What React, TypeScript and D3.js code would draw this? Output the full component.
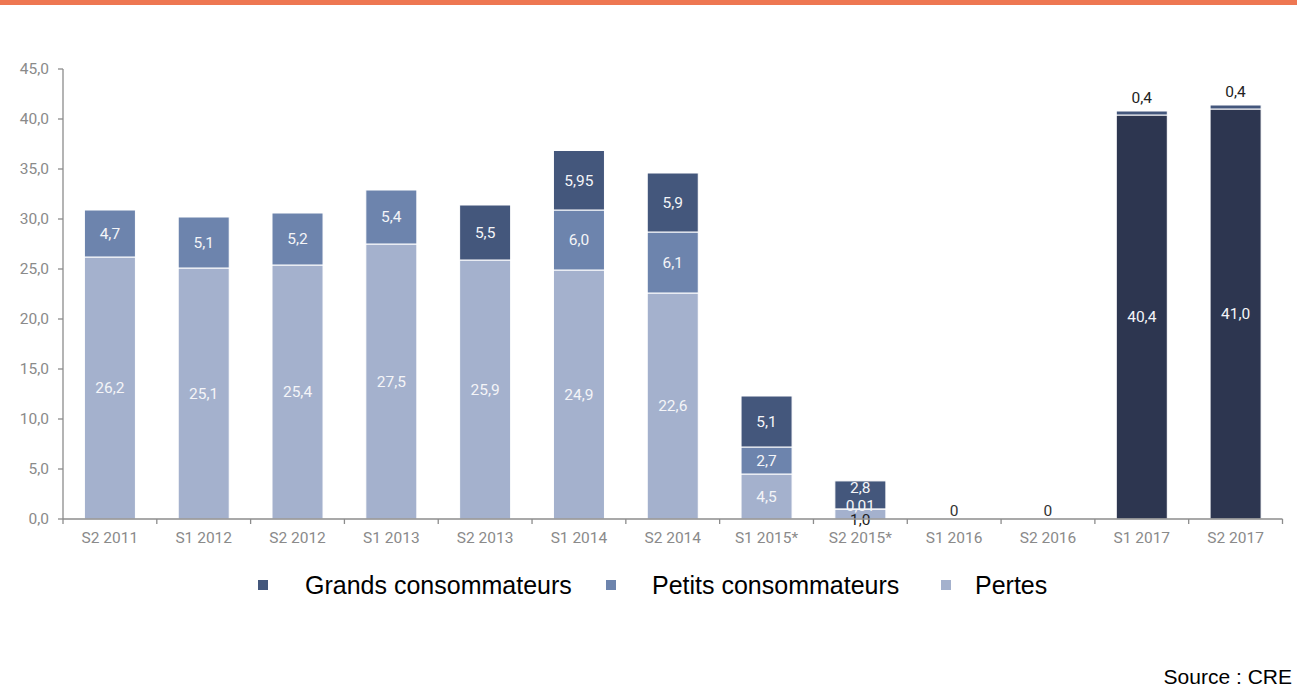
import React from "react";
import * as d3 from "d3";

const categories = ["S2 2011","S1 2012","S2 2012","S1 2013","S2 2013","S1 2014","S2 2014","S1 2015*","S2 2015*","S1 2016","S2 2016","S1 2017","S2 2017"];
const pertes = [26.2, 25.1, 25.4, 27.5, 25.9, 24.9, 22.6, 4.5, 1.0, 0, 0, 0, 0];
const petits = [4.7, 5.1, 5.2, 5.4, 0, 6.0, 6.1, 2.7, 0.01, 0, 0, 0, 0];
const grands = [0, 0, 0, 0, 5.5, 5.95, 5.9, 5.1, 2.8, 0, 0, 0.4, 0.4];
const total2017 = [0, 0, 0, 0, 0, 0, 0, 0, 0, 0, 0, 40.4, 41.0];
const zeroLabels = ["S1 2016", "S2 2016"];
const yTicks = [0, 5, 10, 15, 20, 25, 30, 35, 40, 45];
const legendItems = ["Grands consommateurs", "Petits consommateurs", "Pertes"];

const fmt = (v: number) => {
  const s = v === 5.95 ? "5,95" : v === 0.01 ? "0,01" : v.toFixed(1).replace(".", ",");
  return s;
};

export default function App() {
  const W = 1297, H = 688;
  const x = d3.scaleBand().domain(categories).range([63, 1282.5]).paddingInner(0.456).paddingOuter(0.228);
  const y = d3.scaleLinear().domain([0, 45]).range([519, 69]);
  const colors = { dark: "#2D3650", grands: "#44577C", petits: "#6D84AD", pertes: "#A4B1CD" };
  const series = [
    { key: "pertes", vals: pertes, color: colors.pertes },
    { key: "petits", vals: petits, color: colors.petits },
    { key: "dark", vals: total2017, color: colors.dark },
    { key: "grands", vals: grands, color: colors.grands },
  ];
  const bw = x.bandwidth();
  const marks: any[] = [];
  const labels: any[] = [];
  const lf = 15.5;
  categories.forEach((c, i) => {
    let base = 0;
    const cx = (x(c) as number) + bw / 2;
    series.forEach((s) => {
      const v = s.vals[i];
      if (v <= 0) return;
      const y0 = y(base), y1 = y(base + v);
      marks.push(
        <rect key={s.key + i} x={x(c)} y={y1} width={bw} height={y0 - y1} fill={s.color} stroke="#fff" strokeWidth={1} />
      );
      let ly = (y0 + y1) / 2;
      let fill = "#f4f5f8";
      if (c === "S2 2015*") {
        if (s.key === "pertes") { ly = y0 + 1; fill = "#222"; }
        else if (s.key === "petits") { ly = y1 - 3; }
        else if (s.key === "grands") { ly = y1 + 7; }
      }
      if (total2017[i] > 0 && s.key === "grands") { ly = y1 - 13; fill = "#222"; }
      labels.push(
        <text key={"l" + s.key + i} x={cx} y={ly} dy="0.35em" textAnchor="middle" fontSize={lf} fill={fill} fontFamily="Roboto, sans-serif">{fmt(v)}</text>
      );
      base += v;
    });
    if (zeroLabels.includes(c)) {
      labels.push(
        <text key={"z" + i} x={cx} y={y(0) - 8} dy="0.35em" textAnchor="middle" fontSize={lf} fill="#333" fontFamily="Roboto, sans-serif">0</text>
      );
    }
  });
  const axisColor = "#8c8c8c";
  const step = x.step();
  const legendX = [263, 611, 946];
  const legendTextX = [305, 652, 975];
  const legendColors = [colors.grands, colors.petits, colors.pertes];
  return (
    <svg width={W} height={H} style={{ position: "absolute", left: 0, top: 0 }}>
      <rect x={0} y={0} width={W} height={5} fill="#EE7752" />
      {marks}
      {labels}
      <line x1={63} x2={63} y1={69} y2={519} stroke={axisColor} strokeWidth={1.3} />
      <line x1={63} x2={1282.5} y1={519} y2={519} stroke={axisColor} strokeWidth={1.3} />
      {yTicks.map((t) => (
        <g key={"yt" + t}>
          <line x1={58} x2={63} y1={y(t)} y2={y(t)} stroke={axisColor} strokeWidth={1.3} />
          <text x={49} y={y(t)} dy="0.35em" textAnchor="end" fontSize={lf} fill="#8a8a8a" fontFamily="Roboto, sans-serif">{t.toFixed(1).replace(".", ",")}</text>
        </g>
      ))}
      {categories.map((c, i) => (
        <g key={"xt" + c}>
          <line x1={63 + i * step} x2={63 + i * step} y1={519} y2={524} stroke={axisColor} strokeWidth={1.3} />
          <text x={(x(c) as number) + bw / 2} y={538} dy="0.35em" textAnchor="middle" fontSize={lf} fill="#8a8a8a" fontFamily="Roboto, sans-serif">{c}</text>
        </g>
      ))}
      <line x1={63 + categories.length * step} x2={63 + categories.length * step} y1={519} y2={524} stroke={axisColor} strokeWidth={1.3} />
      {legendItems.map((l, i) => (
        <g key={"lg" + l}>
          <rect x={legendX[i] - 5} y={580} width={10} height={10} fill={legendColors[i]} />
          <text x={legendTextX[i]} y={585} dy="0.35em" fontSize={25} fill="#000" fontFamily="'Liberation Sans', Arial, sans-serif">{l}</text>
        </g>
      ))}
      <text x={1292} y={677} dy="0.35em" textAnchor="end" fontSize={21} fill="#000" fontFamily="'Liberation Sans', Arial, sans-serif">Source : CRE</text>
    </svg>
  );
}
